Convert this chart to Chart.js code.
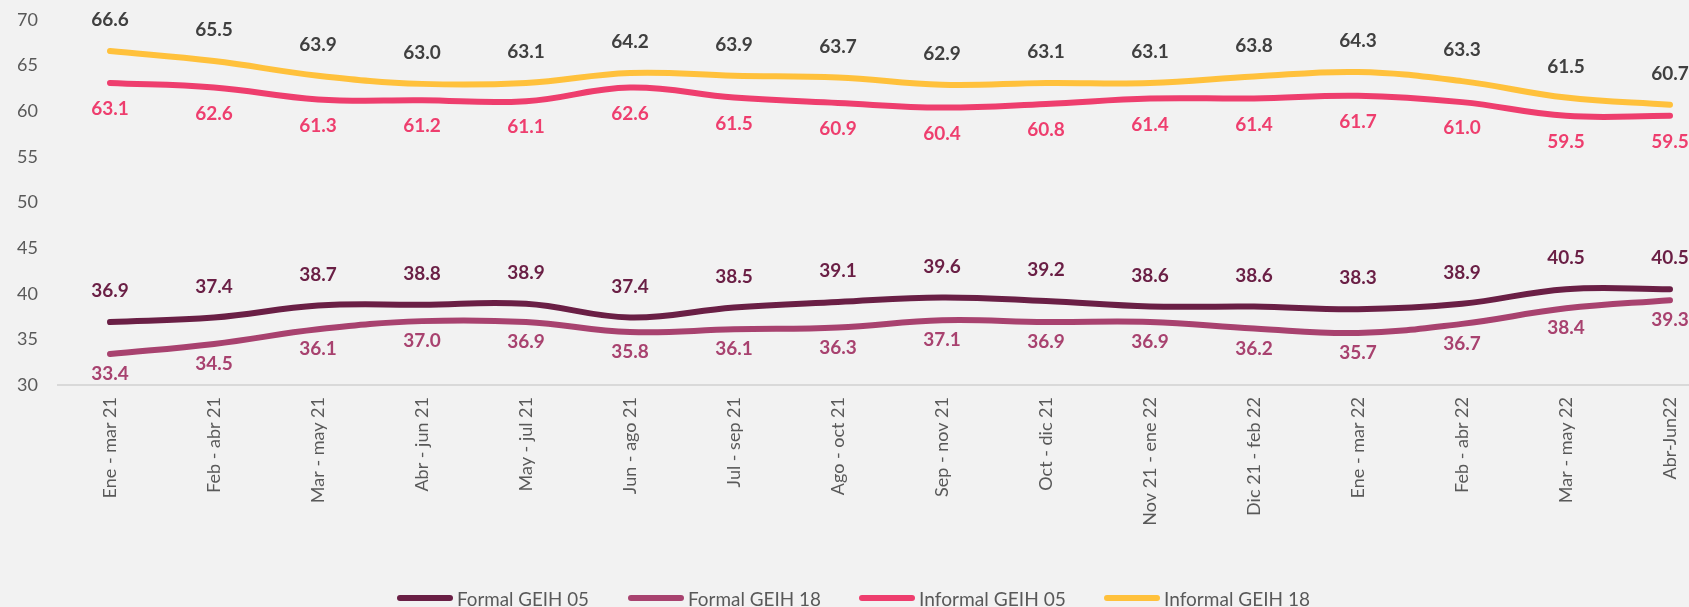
<!DOCTYPE html>
<html>
<head>
<meta charset="utf-8">
<script src="https://cdn.jsdelivr.net/npm/chart.js@4"></script>
<style>
  html, body { margin: 0; padding: 0; background: #F2F2F2; overflow: hidden; width: 1689px; height: 607px; }
  #wrap { position: absolute; left: 0; top: 0; width: 1722px; height: 607px; }
  #legend { position: absolute; top: 588px; left: 0; height: 20px; font-family: Lato, "Open Sans", sans-serif; font-size: 20px; color: #595959; }
  .item { position: absolute; top: 0; white-space: nowrap; height: 20px; }
  .sw { position: absolute; left: 0; top: 7px; width: 56px; height: 6px; border-radius: 3px; }
  .tx { position: absolute; left: 60px; top: 0; line-height: 20px; transform-origin: 0 50%; }
</style>
</head>
<body>
<div id="wrap"><canvas id="c"></canvas></div>
<div id="legend"></div>
<script>
const categories = ['Ene - mar 21','Feb - abr 21','Mar - may 21','Abr - jun 21','May - jul 21','Jun - ago 21','Jul - sep 21','Ago - oct 21','Sep - nov 21','Oct - dic 21','Nov 21 - ene 22','Dic 21 - feb 22','Ene - mar 22','Feb - abr 22','Mar - may 22','Abr-Jun22'];
const formal05 = [36.9, 37.4, 38.7, 38.8, 38.9, 37.4, 38.5, 39.1, 39.6, 39.2, 38.6, 38.6, 38.3, 38.9, 40.5, 40.5];
const formal18 = [33.4, 34.5, 36.1, 37.0, 36.9, 35.8, 36.1, 36.3, 37.1, 36.9, 36.9, 36.2, 35.7, 36.7, 38.4, 39.3];
const informal05 = [63.1, 62.6, 61.3, 61.2, 61.1, 62.6, 61.5, 60.9, 60.4, 60.8, 61.4, 61.4, 61.7, 61.0, 59.5, 59.5];
const informal18 = [66.6, 65.5, 63.9, 63.0, 63.1, 64.2, 63.9, 63.7, 62.9, 63.1, 63.1, 63.8, 64.3, 63.3, 61.5, 60.7];
const seriesNames = ['Formal GEIH 05', 'Formal GEIH 18', 'Informal GEIH 05', 'Informal GEIH 18'];
const yTicksMin = 30, yTicksMax = 70, yTickStep = 5;

const colors = ['#6A1F45', '#A8426F', '#EE3E6E', '#FFC13C'];
const labelColors = ['#6A1F45', '#A8426F', '#EE3E6E', '#404040'];
const labelOffsets = [-31, 20, 26, -31];

const valuePlugin = {
  id: 'values',
  afterDatasetsDraw(chart) {
    const ctx = chart.ctx;
    ctx.save();
    ctx.font = 'bold 19px Lato, "Open Sans", sans-serif';
    ctx.textAlign = 'center';
    ctx.textBaseline = 'middle';
    chart.data.datasets.forEach((ds, di) => {
      const meta = chart.getDatasetMeta(di);
      ctx.fillStyle = labelColors[di];
      meta.data.forEach((pt, i) => {
        ctx.fillText(ds.data[i].toFixed(1), pt.x, pt.y + labelOffsets[di]);
      });
    });
    ctx.restore();
  }
};

const allSeries = [formal05, formal18, informal05, informal18];
const chart = new Chart(document.getElementById('c'), {
  type: 'line',
  data: {
    labels: categories,
    datasets: allSeries.map((d, i) => ({
      label: seriesNames[i],
      data: d,
      borderColor: colors[i],
      backgroundColor: colors[i],
      borderWidth: 6,
      borderCapStyle: 'round',
      tension: 0.4,
      pointRadius: 0,
      fill: false
    }))
  },
  options: {
    responsive: true,
    maintainAspectRatio: false,
    animation: false,
    layout: { padding: { top: 20, bottom: 0, left: 0, right: 0 } },
    plugins: { legend: { display: false }, tooltip: { enabled: false } },
    scales: {
      x: {
        offset: true,
        grid: { display: false, drawTicks: false },
        border: { display: true, color: '#D9D9D9', width: 2 },
        afterFit(s) { s.height = 222; },
        ticks: {
          color: '#595959',
          font: { family: 'Lato, "Open Sans", sans-serif', size: 18 },
          minRotation: 90, maxRotation: 90,
          padding: 12,
          autoSkip: false
        }
      },
      y: {
        min: yTicksMin, max: yTicksMax,
        grid: { display: false, drawTicks: false },
        border: { display: false },
        afterFit(s) { s.width = 58; s.paddingTop = 0; s.paddingBottom = 0; },
        ticks: {
          stepSize: yTickStep,
          color: '#595959',
          font: { family: 'Lato, "Open Sans", sans-serif', size: 18 },
          padding: 20
        }
      }
    }
  },
  plugins: [valuePlugin]
});

const legendX = [397, 628, 859, 1104];
const legendTextW = [132, 133, 147, 146];
const legend = document.getElementById('legend');
seriesNames.forEach((n, i) => {
  const it = document.createElement('div');
  it.className = 'item';
  it.style.left = legendX[i] + 'px';
  const sw = document.createElement('span');
  sw.className = 'sw';
  sw.style.background = colors[i];
  const t = document.createElement('span');
  t.className = 'tx';
  t.textContent = n;
  it.appendChild(sw); it.appendChild(t);
  legend.appendChild(it);
  const w = t.getBoundingClientRect().width;
  t.style.transform = 'scaleX(' + (legendTextW[i] / w) + ')';
});
</script>
</body>
</html>
